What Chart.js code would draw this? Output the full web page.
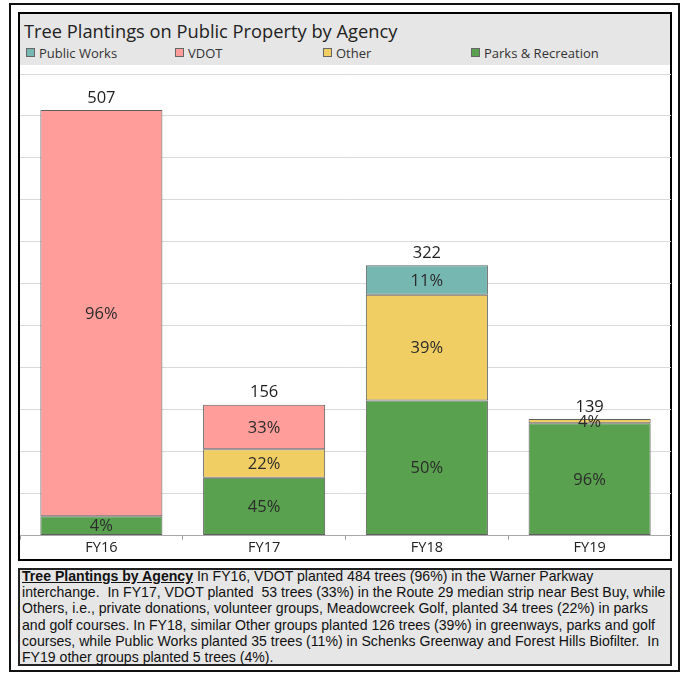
<!DOCTYPE html>
<html>
<head>
<meta charset="utf-8">
<script src="https://cdn.jsdelivr.net/npm/chart.js@4.4.1/dist/chart.umd.min.js"></script>
<style>
    body { margin: 0; background: #fff; width: 683px; height: 673px; position: relative; overflow: hidden; }
    .frame { position: absolute; left: 9px; top: 3px; width: 667px; height: 665px; border: 2px solid #111; }
    .chartBox { position: absolute; left: 18px; top: 12px; width: 650px; height: 545px; border: 2px solid #000; background: #fff; }
    .header { position: absolute; left: 0; top: 0; width: 650px; height: 51px; background: #e6e6e6; }
    .title { position: absolute; left: 4px; top: 4px; font-family: "Open Sans", sans-serif; font-size: 18.3px; color: #222; white-space: nowrap; }
    .legend { position: absolute; left: 0; top: 30px; width: 650px; height: 16px; font-family: "Open Sans", sans-serif; font-size: 13px; color: #333; }
    .legend span.item { position: absolute; top: 0; white-space: nowrap; }
    .legend span.box { display: inline-block; width: 7px; height: 7px; border: 1px solid #666; margin-right: 4px; vertical-align: 1px; }
    .chartWrap { position: absolute; left: 0px; top: 51px; width: 651px; height: 494px; }
    .note { position: absolute; left: 18px; top: 568px; width: 650px; height: 94px; border: 2px solid #222; background: #e6e6e6; font-family: "Liberation Sans", Arial, sans-serif; font-size: 14.1px; line-height: 16.2px; color: #111; white-space: nowrap; }
    .note div { position: relative; left: 2px; top: -2px; }
    .note b { text-decoration: underline; }
</style>
</head>
<body>
<div class="frame"></div>
<div class="chartBox">
    <div class="header">
        <div class="title">Tree Plantings on Public Property by Agency</div>
        <div class="legend" id="legend"></div>
    </div>
    <div class="chartWrap"><canvas id="treeChart"></canvas></div>
</div>
<div class="note"><div><b>Tree Plantings by Agency</b> In FY16, VDOT planted 484 trees (96%) in the Warner Parkway<br>interchange.&nbsp; In FY17, VDOT planted&nbsp; 53 trees (33%) in the Route 29 median strip near Best Buy, while<br>Others, i.e., private donations, volunteer groups, Meadowcreek Golf, planted 34 trees (22%) in parks<br>and golf courses. In FY18, similar Other groups planted 126 trees (39%) in greenways, parks and golf<br>courses, while Public Works planted 35 trees (11%) in Schenks Greenway and Forest Hills Biofilter.&nbsp; In<br>FY19 other groups planted 5 trees (4%).</div></div>

<script>
// 데이터
const categories = ['FY16', 'FY17', 'FY18', 'FY19'];
const parksRec = [23, 69, 161, 134];
const other = [null, 34, 126, 5];
const vdot = [484, 53, null, null];
const publicWorks = [null, null, 35, null];

// 막대 안의 퍼센트 라벨
const parksPct = ['4%', '45%', '50%', '96%'];
const otherPct = ['', '22%', '39%', '4%'];
const vdotPct = ['96%', '33%', '', ''];
const publicWorksPct = ['', '', '11%', ''];

const yTicks = [0, 50, 100, 150, 200, 250, 300, 350, 400, 450, 500, 550];

// 쌓는 순서: 아래부터 Parks, Other, VDOT, Public Works
const datasets = [
    { label: 'Parks & Recreation', data: parksRec, pct: parksPct, backgroundColor: '#59a14f' },
    { label: 'Other', data: other, pct: otherPct, backgroundColor: '#f1ce63' },
    { label: 'VDOT', data: vdot, pct: vdotPct, backgroundColor: '#ff9d9a' },
    { label: 'Public Works', data: publicWorks, pct: publicWorksPct, backgroundColor: '#76b7b2' }
];
datasets.forEach(ds => {
    ds.borderColor = '#5e5e5e';
    ds.borderWidth = 1;
    ds.borderSkipped = false;
    ds.barPercentage = 0.75;
    ds.categoryPercentage = 1.0;
});

// 범례 (HTML)
const legendX = [6, 155, 303, 451];
const legendEl = document.getElementById('legend');
datasets.slice().reverse().forEach((ds, i) => {
    const item = document.createElement('span');
    item.className = 'item';
    item.style.left = legendX[i] + 'px';
    item.innerHTML = `<span class="box" style="background:${ds.backgroundColor}"></span>${ds.label}`;
    legendEl.appendChild(item);
});

// 퍼센트와 합계 라벨 그리기
const barLabels = {
    id: 'barLabels',
    afterDatasetsDraw(chart) {
        const ctx = chart.ctx;
        ctx.save();
        ctx.font = '16.5px "Open Sans", sans-serif';
        ctx.fillStyle = '#2b2b2b';
        ctx.textAlign = 'center';
        ctx.textBaseline = 'middle';
        chart.data.datasets.forEach((ds, i) => {
            const meta = chart.getDatasetMeta(i);
            meta.data.forEach((bar, j) => {
                if (!ds.pct[j] || ds.data[j] == null) return;
                ctx.fillText(ds.pct[j], bar.x, (bar.y + bar.base) / 2 + 1);
            });
        });
        ctx.fillStyle = '#1e1e1e';
        const yScale = chart.scales.y;
        categories.forEach((c, j) => {
            const total = chart.data.datasets.reduce((s, ds) => s + (ds.data[j] || 0), 0);
            const x = chart.getDatasetMeta(0).data[j].x;
            ctx.fillText(String(total), x, yScale.getPixelForValue(total) - 12);
        });
        ctx.restore();
    }
};

new Chart(document.getElementById('treeChart').getContext('2d'), {
    type: 'bar',
    data: { labels: categories, datasets: datasets },
    options: {
        responsive: true,
        maintainAspectRatio: false,
        animation: false,
        layout: { padding: { top: 9, bottom: 2, left: 0, right: 0 } },
        scales: {
            x: {
                stacked: true,
                grid: { display: true, drawOnChartArea: false, drawTicks: true, tickLength: 4, tickColor: '#999', offset: true },
                border: { display: true, color: '#aaa' },
                ticks: { color: '#222', padding: 0, font: { family: '"Open Sans", sans-serif', size: 14.5 } }
            },
            y: {
                stacked: true,
                min: 0,
                max: yTicks[yTicks.length - 1],
                afterBuildTicks: axis => { axis.ticks = yTicks.map(v => ({ value: v })); },
                grid: { color: '#d9d9d9', drawTicks: false },
                border: { display: false },
                ticks: { display: false }
            }
        },
        plugins: {
            legend: { display: false },
            title: { display: false },
            tooltip: { enabled: false }
        }
    },
    plugins: [barLabels]
});
</script>
</body>
</html>
